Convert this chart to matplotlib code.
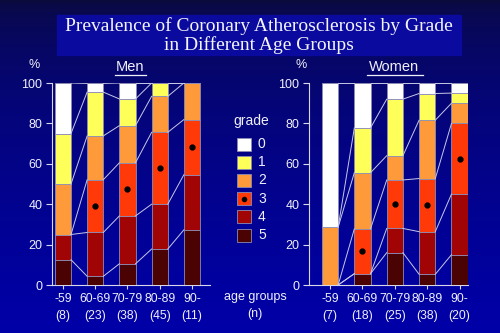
import numpy as np
import matplotlib
matplotlib.use("Agg")
import matplotlib.pyplot as plt
from matplotlib.colors import LinearSegmentedColormap

# age groups and sample sizes
age_groups = ["-59", "60-69", "70-79", "80-89", "90-"]
men_n = [8, 23, 38, 45, 11]
women_n = [7, 18, 25, 38, 20]

# percentage per grade (rows: grade 0..5)
men_pct = [
    [25.0, 4.3, 7.9, 0.0, 0.0],      # grade 0
    [25.0, 21.7, 13.2, 6.7, 0.0],    # grade 1
    [25.0, 21.7, 18.4, 17.8, 18.2],  # grade 2
    [0.0, 26.1, 26.3, 35.6, 27.3],   # grade 3
    [12.5, 21.7, 23.7, 22.2, 27.3],  # grade 4
    [12.5, 4.3, 10.5, 17.8, 27.3],   # grade 5
]
women_pct = [
    [71.4, 22.2, 8.0, 5.3, 5.0],
    [0.0, 22.2, 28.0, 13.2, 5.0],
    [28.6, 27.8, 12.0, 28.9, 10.0],
    [0.0, 22.2, 24.0, 26.3, 35.0],
    [0.0, 0.0, 12.0, 21.1, 30.0],
    [0.0, 5.6, 16.0, 5.3, 15.0],
]

grades = ["0", "1", "2", "3", "4", "5"]
colors = ["#ffffff", "#ffff5a", "#ff9a3a", "#ff3a08", "#a00404", "#4a0202"]

W, H = 500, 333
fig = plt.figure(figsize=(W / 100, H / 100), dpi=100)

# background gradient
bg = fig.add_axes([0, 0, 1, 1])
grad = np.linspace(0, 1, 256) ** 0.5
bg_cmap = LinearSegmentedColormap.from_list("bg", ["#0b0b3a", "#0000a8"])
bg.imshow(grad[:, None], aspect="auto", cmap=bg_cmap, extent=[0, W, H, 0])
bg.set_xlim(0, W)
bg.set_ylim(H, 0)
bg.axis("off")

# title box
bg.add_patch(plt.Rectangle((57, 15), 404, 40, color="#0a0a9e", zorder=2))
bg.text(259, 26, "Prevalence of Coronary Atherosclerosis by Grade",
        family="Liberation Serif", fontsize=14, color="#f4f4fa",
        ha="center", va="center", zorder=3)
bg.text(259, 45, "in Different Age Groups",
        family="Liberation Serif", fontsize=14, color="#f4f4fa",
        ha="center", va="center", zorder=3)

sans = "Liberation Sans"
txt = "#f0f0f8"


def px_axes(x0, x1, y0, y1):
    return fig.add_axes([x0 / W, 1 - y1 / H, (x1 - x0) / W, (y1 - y0) / H])


def draw_panel(ax, pct, n, xlim):
    x = np.arange(len(age_groups))
    bw = 0.5
    bottom = np.zeros(len(x))
    tops = []
    for g in range(5, -1, -1):
        vals = np.array(pct[g])
        ax.bar(x, vals, bw, bottom=bottom, color=colors[g],
               edgecolor="#8c8cb4", linewidth=0.6, zorder=3)
        if g == 3:
            mid = bottom + vals / 2
            m = vals > 0
            ax.plot(x[m], mid[m], "o", color="black", ms=3.5, zorder=5)
        bottom = bottom + vals
        tops.append(bottom.copy())
    # connecting lines between neighbouring bars
    for lev in tops:
        for i in range(len(x) - 1):
            ax.plot([x[i] + bw / 2, x[i + 1] - bw / 2],
                    [min(lev[i], 100), min(lev[i + 1], 100)],
                    color="#c8c8e8", lw=0.7, zorder=4)
    ax.set_xlim(*xlim)
    ax.set_ylim(0, 100)
    ax.set_facecolor("none")
    ax.set_yticks(range(0, 101, 20))
    ax.set_xticks(x)
    ax.set_xticklabels([f"{a}\n({k})" for a, k in zip(age_groups, n)],
                       linespacing=1.5)
    for sp in ["top", "right"]:
        ax.spines[sp].set_visible(False)
    for sp in ["left", "bottom"]:
        ax.spines[sp].set_color("#d8d8e8")
        ax.spines[sp].set_linewidth(0.8)
    ax.tick_params(axis="y", colors="#d8d8e8", labelcolor=txt, length=4,
                   width=0.8, pad=3, labelsize=9)
    ax.tick_params(axis="x", colors="#d8d8e8", labelcolor=txt, length=3,
                   width=0.8, pad=3, labelsize=8.7)
    for t in ax.get_xticklabels() + ax.get_yticklabels():
        t.set_family(sans)


axL = px_axes(52, 210, 83, 285)
draw_panel(axL, men_pct, men_n, (-0.34, 4.56))
axR = px_axes(309, 468, 83, 285)
draw_panel(axR, women_pct, women_n, (-0.65, 4.26))

# panel labels
bg.text(130, 67, "Men", family=sans, fontsize=10.5, color=txt,
        ha="center", va="center")
bg.plot([115, 146], [74.5, 74.5], color=txt, lw=0.9)
bg.text(394, 67, "Women", family=sans, fontsize=10.5, color=txt,
        ha="center", va="center")
bg.plot([367, 423], [74.5, 74.5], color=txt, lw=0.9)
bg.text(34, 65, "%", family=sans, fontsize=9, color=txt,
        ha="center", va="center")
bg.text(301, 65, "%", family=sans, fontsize=9, color=txt,
        ha="center", va="center")

# legend
bg.text(233, 121, "grade", family=sans, fontsize=10, color=txt,
        ha="left", va="center")
for i, g in enumerate(grades):
    y = 144 + i * 18.2
    bg.add_patch(plt.Rectangle((237, y - 6.5), 14, 13, facecolor=colors[i],
                               edgecolor="#8c8cb4", lw=0.6, zorder=3))
    if g == "3":
        bg.plot(244, y, "o", color="black", ms=3, zorder=4)
    bg.text(258, y, g, family=sans, fontsize=10, color=txt,
            ha="left", va="center")

bg.text(255, 297, "age groups", family=sans, fontsize=9, color=txt,
        ha="center", va="center")
bg.text(255, 314, "(n)", family=sans, fontsize=9, color=txt,
        ha="center", va="center")

fig.savefig("out.png", dpi=100)
